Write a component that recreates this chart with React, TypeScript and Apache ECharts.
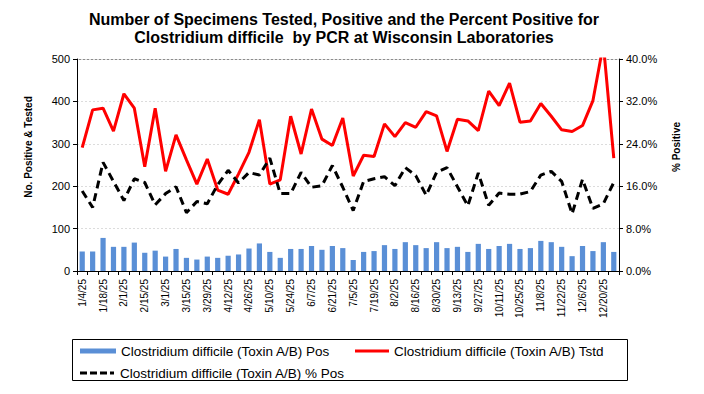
import React, { useEffect, useRef } from "react";
import * as echarts from "echarts";

const weeks = [
  "1/4/25", "1/11/25", "1/18/25", "1/25/25", "2/1/25", "2/8/25", "2/15/25", "2/22/25",
  "3/1/25", "3/8/25", "3/15/25", "3/22/25", "3/29/25", "4/5/25", "4/12/25", "4/19/25",
  "4/26/25", "5/3/25", "5/10/25", "5/17/25", "5/24/25", "5/31/25", "6/7/25", "6/14/25",
  "6/21/25", "6/28/25", "7/5/25", "7/12/25", "7/19/25", "7/26/25", "8/2/25", "8/9/25",
  "8/16/25", "8/23/25", "8/30/25", "9/6/25", "9/13/25", "9/20/25", "9/27/25", "10/4/25",
  "10/11/25", "10/18/25", "10/25/25", "11/1/25", "11/8/25", "11/15/25", "11/22/25", "11/29/25",
  "12/6/25", "12/13/25", "12/20/25", "12/27/25",
];

const positives = [
  46, 46, 78, 57, 57, 67, 43, 48, 34, 52, 31, 27, 34, 31, 36, 39,
  53, 65, 45, 31, 52, 52, 59, 50, 59, 54, 26, 45, 47, 61, 52, 68,
  61, 54, 68, 54, 57, 45, 64, 52, 59, 64, 52, 54, 71, 68, 57, 35,
  59, 47, 68, 45,
];

const tested = [
  291, 380, 384, 330, 418, 384, 246, 384, 235, 321, 262, 205, 264, 191, 181, 229,
  280, 357, 205, 215, 365, 276, 382, 311, 296, 361, 224, 273, 270, 347, 317, 350,
  339, 376, 366, 282, 358, 354, 331, 424, 390, 443, 351, 354, 395, 365, 333, 329,
  343, 402, 535, 266,
];

const percentPositive = [
  15.1, 12.0, 20.5, 16.9, 13.3, 17.4, 16.7, 12.5, 14.6, 15.9, 11.0, 13.1, 12.7, 16.3, 19.0, 16.6,
  18.6, 18.1, 21.3, 14.6, 14.6, 18.6, 15.8, 16.1, 19.9, 15.8, 11.4, 16.9, 17.4, 17.8, 16.1, 19.5,
  18.0, 14.3, 18.6, 19.5, 15.9, 12.3, 18.5, 12.4, 14.7, 14.5, 14.5, 15.0, 18.1, 18.8, 16.9, 10.8,
  17.3, 11.8, 12.7, 16.7,
];

const seriesNames = [
  "Clostridium difficile (Toxin A/B) Pos",
  "Clostridium difficile (Toxin A/B) Tstd",
  "Clostridium difficile (Toxin A/B) % Pos",
];

const FONT = "'Liberation Sans', Arial, sans-serif";
const DASH_ICON = "path://M0,0h7v3h-7zM10,0h7v3h-7zM20,0h7v3h-7zM30,0h4v3h-4z";

export default function App() {
  const ref = useRef<HTMLDivElement>(null);
  useEffect(() => {
    if (!ref.current) return;
    const chart = echarts.init(ref.current, undefined, { renderer: "svg" });
    const legendText = { fontFamily: FONT, fontSize: 13.5, color: "#000" };
    chart.setOption({
      animation: false,
      backgroundColor: "#fff",
      textStyle: { fontFamily: FONT },
      title: {
        text: "Number of Specimens Tested, Positive and the Percent Positive for\nClostridium difficile  by PCR at Wisconsin Laboratories",
        left: 344,
        top: 10,
        textAlign: "center",
        padding: 0,
        textStyle: { fontFamily: FONT, fontSize: 16, fontWeight: "bold", color: "#000", lineHeight: 18 },
      },
      grid: { left: 77, right: 85, top: 59, bottom: 123, containLabel: false },
      legend: [
        {
          data: [{ name: seriesNames[0], icon: "rect" }],
          left: 80, top: 344, padding: 0, itemWidth: 36, itemHeight: 5,
          textStyle: legendText,
        },
        {
          data: [{ name: seriesNames[1], icon: "rect" }],
          left: 355, top: 344, padding: 0, itemWidth: 34, itemHeight: 3,
          textStyle: legendText,
        },
        {
          data: [{ name: seriesNames[2], icon: DASH_ICON }],
          left: 80, top: 366, padding: 0, itemWidth: 36, itemHeight: 3,
          textStyle: legendText,
        },
      ],
      xAxis: {
        type: "category",
        data: weeks,
        boundaryGap: true,
        axisLine: { lineStyle: { color: "#000", width: 1 } },
        axisTick: { show: true, interval: 0, alignWithLabel: false, length: 4, lineStyle: { color: "#000" } },
        axisLabel: { interval: 1, rotate: 90, fontSize: 10, color: "#000", fontFamily: FONT, margin: 8 },
        splitLine: { show: false },
      },
      yAxis: [
        {
          type: "value",
          min: 0,
          max: 500,
          interval: 100,
          axisLine: { show: true, lineStyle: { color: "#000" } },
          axisTick: { show: true, length: 4, lineStyle: { color: "#000" } },
          axisLabel: { fontSize: 11, color: "#000", fontFamily: FONT, margin: 7 },
          splitLine: { show: true, lineStyle: { color: "#dcdcdc", type: [2, 2], width: 1 } },
        },
        {
          type: "value",
          min: 0,
          max: 40,
          interval: 8,
          position: "right",
          axisLine: { show: true, lineStyle: { color: "#000" } },
          axisTick: { show: true, length: 4, lineStyle: { color: "#000" } },
          axisLabel: {
            fontSize: 11, color: "#000", fontFamily: FONT, margin: 7,
            formatter: (v: number) => v.toFixed(1) + "%",
          },
          splitLine: { show: false },
        },
      ],
      graphic: [
        {
          type: "line",
          shape: { x1: 77, y1: 59.5, x2: 619, y2: 59.5 },
          style: { stroke: "#8c8c8c", lineWidth: 1 },
          silent: true,
        },
        {
          type: "text",
          x: 28,
          y: 147,
          rotation: Math.PI / 2,
          style: {
            text: "No. Positive & Tested",
            font: `bold 10px ${FONT}`,
            fill: "#000",
            textAlign: "center",
            textVerticalAlign: "middle",
          },
        },
        {
          type: "text",
          x: 676,
          y: 147,
          rotation: Math.PI / 2,
          style: {
            text: "% Positive",
            font: `bold 10px ${FONT}`,
            fill: "#000",
            textAlign: "center",
            textVerticalAlign: "middle",
          },
        },
        {
          type: "rect",
          shape: { x: 72.5, y: 339.5, width: 555, height: 41 },
          style: { fill: "none", stroke: "#000", lineWidth: 1 },
          silent: true,
        },
      ],
      series: [
        {
          name: seriesNames[0],
          type: "bar",
          data: positives,
          yAxisIndex: 0,
          barWidth: "50%",
          itemStyle: { color: "#5a8fd6" },
        },
        {
          name: seriesNames[1],
          type: "line",
          data: tested,
          yAxisIndex: 0,
          symbol: "none",
          clip: true,
          lineStyle: { color: "#ff0000", width: 3 },
          itemStyle: { color: "#ff0000" },
        },
        {
          name: seriesNames[2],
          type: "line",
          data: percentPositive,
          yAxisIndex: 1,
          symbol: "none",
          clip: true,
          lineStyle: { color: "#000", width: 3, type: [8, 5] },
          itemStyle: { color: "#000" },
        },
      ],
    });
    return () => chart.dispose();
  }, []);
  return (
    <div
      ref={ref}
      style={{ position: "fixed", left: 0, top: 0, width: 704, height: 394, background: "#fff" }}
    />
  );
}
